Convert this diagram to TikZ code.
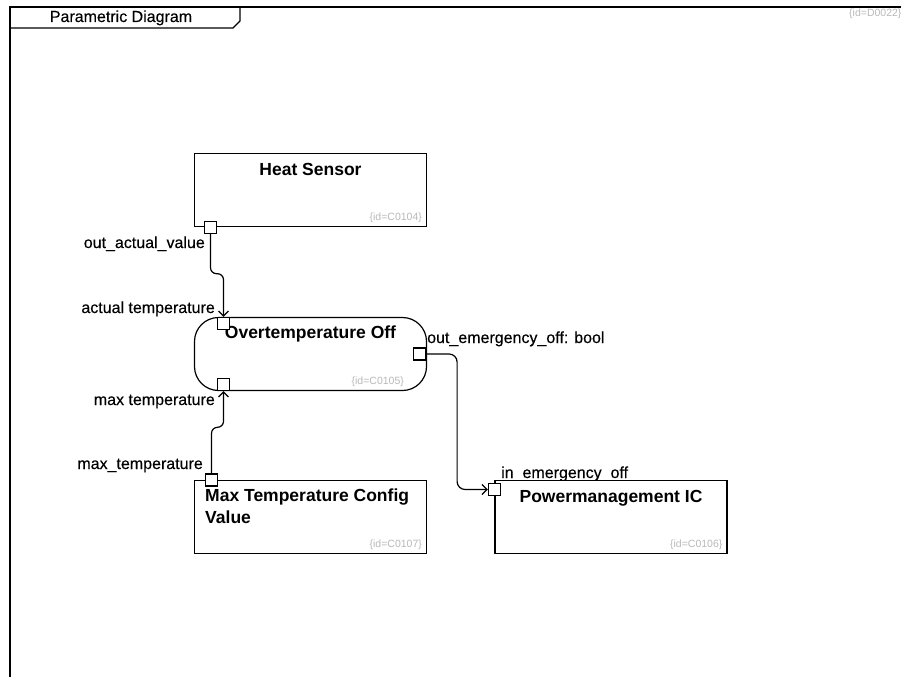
\documentclass[tikz,border=0pt]{standalone}
\usepackage{fontspec}
\setmainfont{Liberation Sans}
\newfontfamily\labelfont[FakeBold=0.25]{Liberation Sans}
\usetikzlibrary{positioning}
\usetikzlibrary{calc}
\usetikzlibrary{arrows.meta}
\definecolor{idgray}{RGB}{185,185,185}
\tikzset{
    block/.style={draw=black, line width=1.2pt, fill=white,
        minimum width=232pt, minimum height=73pt, inner sep=0pt},
    constraint/.style={block, rounded corners=24pt},
    port/.style={draw=black, line width=1.2pt, fill=white,
        minimum size=12pt, inner sep=0pt},
    title/.style={font=\fontsize{17.5}{21.5}\selectfont\bfseries, inner sep=0pt},
    lbl/.style={font=\labelfont\fontsize{16}{19}\selectfont, inner sep=0pt},
    idtext/.style={font=\fontsize{10.5}{12}\selectfont, text=idgray, inner sep=0pt},
    flow/.style={draw=black, line width=1.2pt, rounded corners=6pt,
        -{Straight Barb[length=5pt,width=10pt]}}
}

\begin{document}
\begin{tikzpicture}[x=1pt, y=-1pt]
\useasboundingbox (0,0) rectangle (901,677);
% frame
\draw[line width=1.5pt] (10,677) -- (10,7) -- (901,7);
\draw[line width=1.2pt] (10,28) -- (233,28) -- (240,21) -- (240,7);
\node[lbl, anchor=base] (frameTitle) at (121,22) {Parametric Diagram};
\node[idtext, anchor=west] (frameId) at (849,14) {\{id=D0022\}};

% blocks
\node[block] (sensor) at (310.5,190) {};
\node[title, anchor=base] (sensorTitle) at ($(sensor.north)+(0,23)$) {Heat Sensor};
\node[idtext, above left=4pt and 5pt of sensor.south east] (sensorId) {\{id=C0104\}};

\node[constraint] (overtemp) at (310.5,354) {};
\node[title, anchor=base] (overtempTitle) at ($(overtemp.north)+(0,22)$) {Overtemperature Off};
\node[idtext, above left=4pt and 23pt of overtemp.south east] (overtempId) {\{id=C0105\}};

\node[block] (limit) at (310.5,517) {};
\node[title, anchor=north west, align=left] (limitTitle) at (205,489) {Max Temperature Config\\Value};
\node[idtext, above left=4pt and 5pt of limit.south east] (limitId) {\{id=C0107\}};

\node[lbl, anchor=base west] (pmicInLbl) at (501,478) {in\_emergency\_off};
\node[block] (pmic) at (611,517) {};
\node[title, anchor=base] (pmicTitle) at ($(pmic.north)+(0,23)$) {Powermanagement IC};
\node[idtext, above left=4pt and 5pt of pmic.south east] (pmicId) {\{id=C0106\}};

% ports
\node[port, right=10pt of sensor.south west] (sensorOut) {};
\node[port, below right=0pt and 23pt of overtemp.north west] (otIn) {};
\node[port, above right=0pt and 23pt of overtemp.south west] (otMax) {};
\node[port, left=1pt of overtemp.east] (otOut) {};
\node[port, right=11pt of limit.north west] (limitOut) {};
\node[port, below=3pt of pmic.north west] (pmIn) {};

% port labels
\node[lbl, anchor=base east] (sensorOutLbl) at (205,248) {out\_actual\_value};
\node[lbl, anchor=base east] (otInLbl) at (215,313) {actual temperature};
\node[lbl, anchor=base west] (otOutLbl) at (427,343) {out\_emergency\_off: bool};
\node[lbl, anchor=base east] (otMaxLbl) at (215,405) {max temperature};
\node[lbl, anchor=base east] (limitOutLbl) at (203,469) {max\_temperature};

% bindings
\draw[flow] (sensorOut.south) -- ++(0,40) -| (otIn.north);
\draw[flow] (limitOut.north) -- ++(0,-46) -| (otMax.south);
\draw[flow, rounded corners=8pt] (otOut.east) -- ++(31,0) |- (pmIn.west);
\end{tikzpicture}
\end{document}
